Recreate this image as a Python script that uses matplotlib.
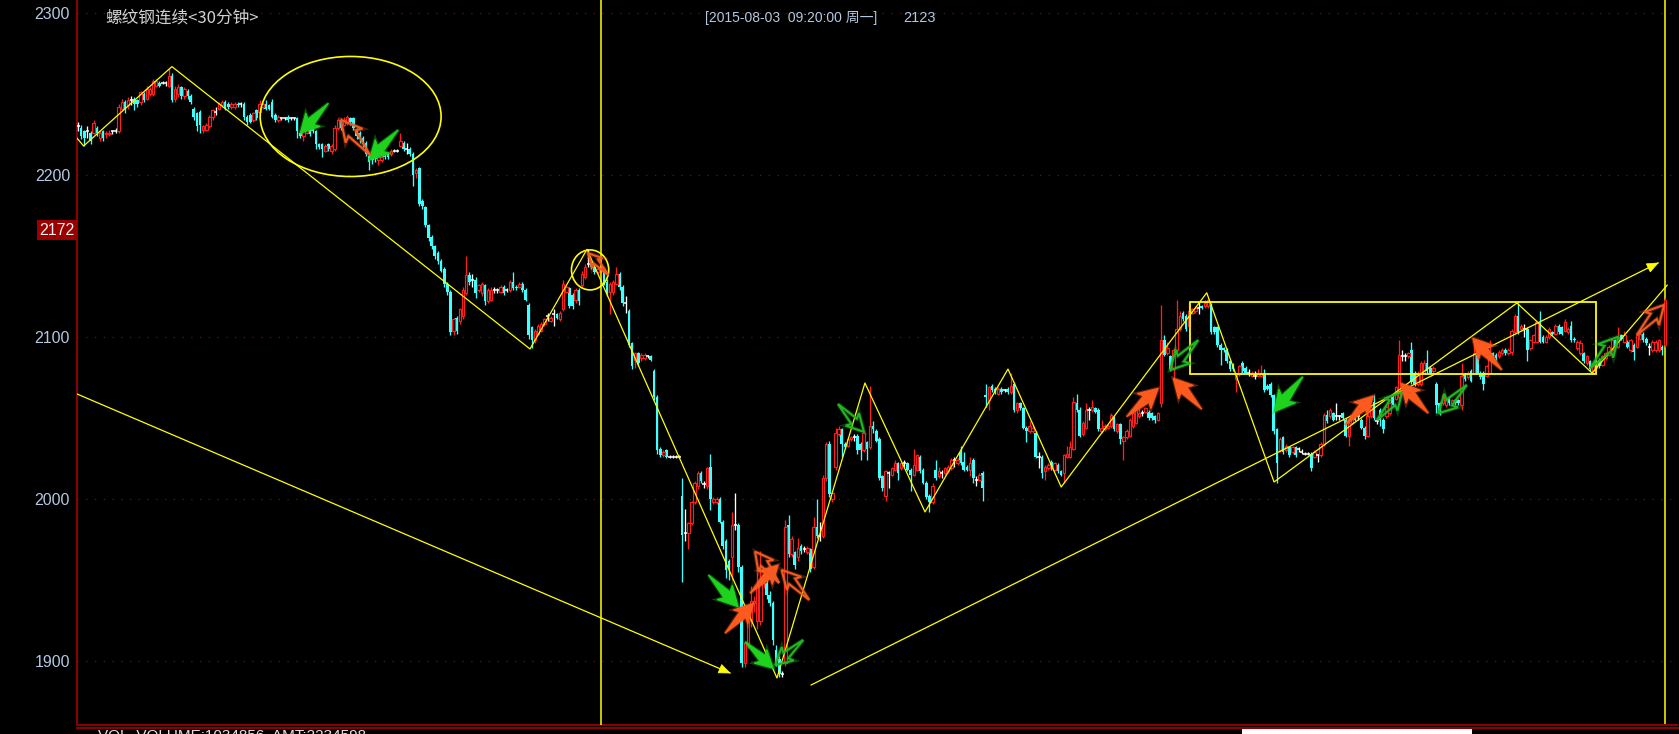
import matplotlib
matplotlib.use("Agg")
import matplotlib.pyplot as plt
import matplotlib.transforms as mtransforms
from matplotlib.patches import Polygon, Ellipse, Rectangle
from matplotlib.lines import Line2D
import numpy as np

plt.rcParams['font.family'] = ['Liberation Sans', 'Noto Sans CJK SC', 'DejaVu Sans']

# 30分钟K线 (开, 高, 低, 收)
opens = [
    2230, 2229, 2227, 2227, 2226, 2226, 2229, 2223, 2227, 2225,
    2225, 2227, 2227, 2227, 2241, 2245, 2243, 2246, 2247, 2246,
    2245, 2250, 2247, 2250, 2250, 2255, 2257, 2257, 2257, 2255,
    2261, 2247, 2250, 2254, 2249, 2252, 2249, 2241, 2238, 2239,
    2228, 2228, 2230, 2236, 2239, 2241, 2243, 2245, 2244, 2242,
    2242, 2244, 2244, 2244, 2236, 2237, 2234, 2240, 2239, 2242,
    2244, 2243, 2245, 2237, 2234, 2235, 2235, 2236, 2235, 2235,
    2235, 2226, 2224, 2226, 2228, 2229, 2227, 2219, 2219, 2215,
    2219, 2215, 2216, 2229, 2234, 2231, 2232, 2235, 2235, 2228,
    2226, 2223, 2220, 2212, 2211, 2212, 2209, 2209, 2212, 2213,
    2213, 2215, 2215, 2218, 2220, 2216, 2216, 2213, 2201, 2204,
    2184, 2180, 2169, 2162, 2156, 2152, 2147, 2142, 2133, 2128,
    2104, 2112, 2110, 2113, 2127, 2138, 2135, 2135, 2129, 2127,
    2132, 2122, 2123, 2129, 2129, 2128, 2131, 2129, 2129, 2134,
    2131, 2131, 2133, 2129, 2120, 2106, 2098, 2102, 2104, 2108,
    2113, 2110, 2114, 2114, 2111, 2117, 2128, 2130, 2126, 2123,
    2129, 2132, 2137, 2145, 2145, 2143, 2140, 2141, 2141, 2134,
    2128, 2128, 2133, 2139, 2131, 2121, 2116, 2096, 2086, 2090,
    2087, 2087, 2088, 2088, 2079, 2063, 2031, 2027, 2030, 2026,
    2026, 2026, 2026, 2002, 1979, 1979, 1985, 1998, 2008, 2016,
    2009, 2008, 2020, 1998, 1998, 2000, 1986, 1974, 1962, 1964,
    1984, 1984, 1958, 1899, 1911, 1925, 1936, 1925, 1925, 1948,
    1948, 1941, 1936, 1907, 1901, 1892, 1899, 1984, 1966, 1967,
    1964, 1971, 1969, 1967, 1969, 1958, 1983, 1977, 1977, 2013,
    2034, 2000, 2020, 2040, 2043, 2034, 2033, 2037, 2038, 2039,
    2034, 2030, 2035, 2032, 2045, 2042, 2037, 2014, 2002, 2016,
    2015, 2018, 2022, 2019, 2022, 2022, 2018, 2015, 2018, 2026,
    2018, 2010, 2002, 1998, 2018, 2014, 2016, 2016, 2017, 2019,
    2024, 2022, 2029, 2023, 2020, 2018, 2024, 2012, 2012, 2016,
    2064, 2061, 2070, 2068, 2065, 2068, 2067, 2068, 2066, 2071,
    2055, 2059, 2056, 2044, 2042, 2042, 2041, 2026, 2026, 2017,
    2019, 2023, 2018, 2021, 2017, 2016, 2026, 2026, 2031, 2059,
    2055, 2040, 2044, 2055, 2055, 2056, 2055, 2042, 2043, 2044,
    2045, 2050, 2042, 2046, 2036, 2038, 2039, 2045, 2047, 2051,
    2053, 2054, 2054, 2053, 2051, 2049, 2059, 2098, 2090, 2088,
    2080, 2092, 2105, 2115, 2113, 2107, 2115, 2116, 2118, 2119,
    2119, 2119, 2120, 2106, 2106, 2095, 2093, 2092, 2085, 2083,
    2074, 2077, 2084, 2081, 2078, 2076, 2076, 2076, 2076, 2077,
    2070, 2071, 2064, 2043, 2030, 2038, 2030, 2032, 2029, 2032,
    2031, 2029, 2028, 2028, 2028, 2026, 2027, 2027, 2034, 2052,
    2051, 2053, 2051, 2051, 2053, 2049, 2039, 2047, 2051, 2051,
    2049, 2044, 2039, 2051, 2060, 2048, 2055, 2049, 2051, 2053,
    2063, 2062, 2063, 2088, 2088, 2088, 2092, 2078, 2071, 2071,
    2078, 2084, 2081, 2079, 2071, 2059, 2059, 2058, 2062, 2059,
    2061, 2061, 2058, 2077, 2075, 2079, 2078, 2089, 2078, 2078,
    2076, 2078, 2090, 2089, 2088, 2090, 2092, 2090, 2091, 2103,
    2113, 2105, 2105, 2105, 2093, 2097, 2097, 2108, 2100, 2097,
    2100, 2103, 2102, 2107, 2106, 2104, 2103, 2107, 2099, 2093,
    2090, 2090, 2084, 2085, 2079, 2081, 2086, 2083, 2087, 2089,
    2092, 2098, 2094, 2101, 2097, 2097, 2092, 2095, 2094, 2099,
    2102, 2099, 2094, 2092, 2092, 2092, 2094, 2095,
]
highs = [
    2233, 2231, 2228, 2230, 2227, 2234, 2230, 2228, 2228, 2227,
    2228, 2228, 2229, 2244, 2247, 2246, 2248, 2249, 2248, 2247,
    2252, 2251, 2255, 2254, 2259, 2259, 2258, 2258, 2258, 2266,
    2263, 2255, 2256, 2255, 2254, 2253, 2250, 2242, 2239, 2240,
    2231, 2232, 2237, 2241, 2242, 2245, 2246, 2246, 2245, 2245,
    2245, 2245, 2245, 2245, 2237, 2238, 2239, 2241, 2246, 2245,
    2246, 2244, 2247, 2238, 2237, 2236, 2236, 2237, 2236, 2236,
    2236, 2227, 2228, 2229, 2229, 2230, 2228, 2220, 2220, 2219,
    2220, 2219, 2231, 2235, 2235, 2236, 2237, 2236, 2236, 2229,
    2227, 2224, 2221, 2213, 2212, 2213, 2212, 2213, 2213, 2214,
    2216, 2216, 2216, 2226, 2221, 2220, 2217, 2214, 2204, 2205,
    2185, 2181, 2170, 2163, 2157, 2153, 2148, 2143, 2134, 2129,
    2112, 2113, 2118, 2131, 2150, 2140, 2139, 2137, 2133, 2134,
    2133, 2130, 2131, 2131, 2130, 2132, 2132, 2130, 2135, 2140,
    2132, 2134, 2134, 2130, 2121, 2107, 2105, 2108, 2109, 2112,
    2115, 2113, 2117, 2115, 2116, 2135, 2132, 2131, 2127, 2130,
    2130, 2141, 2145, 2154, 2147, 2144, 2143, 2145, 2143, 2136,
    2134, 2135, 2143, 2140, 2132, 2125, 2117, 2097, 2091, 2091,
    2090, 2090, 2089, 2089, 2080, 2064, 2032, 2030, 2031, 2027,
    2027, 2027, 2027, 2013, 1994, 1986, 1999, 2011, 2017, 2017,
    2011, 2020, 2028, 2001, 2001, 2001, 1987, 1975, 1963, 1992,
    2004, 1985, 1959, 1912, 1927, 1946, 1940, 1955, 1968, 1952,
    1950, 1943, 1937, 1910, 1903, 1894, 1987, 1990, 1977, 1968,
    1976, 1972, 1971, 1971, 1970, 1989, 2000, 1986, 2015, 2035,
    2036, 2005, 2044, 2045, 2044, 2035, 2038, 2039, 2040, 2040,
    2035, 2042, 2036, 2070, 2048, 2043, 2038, 2015, 2018, 2017,
    2020, 2024, 2023, 2023, 2024, 2023, 2019, 2031, 2028, 2027,
    2019, 2011, 2003, 2010, 2024, 2020, 2018, 2020, 2021, 2025,
    2026, 2025, 2033, 2029, 2021, 2026, 2025, 2014, 2016, 2017,
    2071, 2070, 2071, 2069, 2069, 2069, 2068, 2069, 2078, 2072,
    2060, 2060, 2057, 2045, 2048, 2045, 2042, 2029, 2027, 2021,
    2022, 2024, 2023, 2022, 2018, 2028, 2033, 2036, 2063, 2065,
    2057, 2048, 2059, 2057, 2061, 2057, 2056, 2049, 2046, 2046,
    2053, 2051, 2047, 2047, 2039, 2043, 2050, 2054, 2057, 2058,
    2055, 2057, 2055, 2054, 2052, 2054, 2120, 2101, 2097, 2089,
    2093, 2123, 2116, 2116, 2114, 2121, 2118, 2119, 2122, 2120,
    2123, 2124, 2121, 2107, 2107, 2096, 2094, 2093, 2086, 2084,
    2078, 2083, 2085, 2082, 2080, 2079, 2079, 2080, 2083, 2080,
    2071, 2072, 2065, 2044, 2038, 2039, 2034, 2033, 2033, 2033,
    2032, 2031, 2029, 2029, 2029, 2030, 2028, 2035, 2053, 2055,
    2056, 2054, 2059, 2052, 2054, 2050, 2048, 2051, 2052, 2052,
    2050, 2045, 2052, 2058, 2064, 2050, 2056, 2050, 2058, 2060,
    2064, 2070, 2098, 2092, 2090, 2091, 2097, 2079, 2079, 2085,
    2086, 2092, 2082, 2082, 2072, 2060, 2065, 2062, 2063, 2062,
    2062, 2062, 2084, 2078, 2079, 2080, 2098, 2090, 2079, 2079,
    2083, 2098, 2091, 2090, 2092, 2093, 2093, 2093, 2105, 2114,
    2121, 2108, 2108, 2106, 2099, 2102, 2110, 2116, 2101, 2101,
    2106, 2104, 2108, 2108, 2107, 2111, 2106, 2110, 2100, 2098,
    2098, 2091, 2089, 2086, 2083, 2086, 2087, 2089, 2091, 2095,
    2099, 2099, 2106, 2102, 2104, 2098, 2099, 2096, 2102, 2103,
    2103, 2100, 2096, 2098, 2098, 2099, 2095, 2124,
]
lows = [
    2227, 2222, 2218, 2223, 2219, 2225, 2224, 2221, 2221, 2223,
    2224, 2225, 2226, 2226, 2240, 2238, 2241, 2243, 2240, 2242,
    2243, 2245, 2246, 2249, 2249, 2254, 2254, 2256, 2255, 2254,
    2245, 2245, 2248, 2247, 2247, 2247, 2244, 2234, 2227, 2226,
    2226, 2227, 2229, 2234, 2237, 2240, 2242, 2240, 2241, 2241,
    2241, 2242, 2242, 2234, 2231, 2232, 2233, 2234, 2238, 2241,
    2240, 2240, 2235, 2233, 2233, 2234, 2234, 2233, 2234, 2234,
    2223, 2223, 2221, 2225, 2224, 2226, 2216, 2216, 2211, 2214,
    2215, 2213, 2215, 2228, 2228, 2230, 2231, 2231, 2228, 2222,
    2220, 2217, 2212, 2203, 2207, 2208, 2206, 2208, 2210, 2210,
    2212, 2214, 2214, 2217, 2215, 2213, 2212, 2193, 2198, 2181,
    2179, 2168, 2159, 2154, 2148, 2145, 2140, 2131, 2126, 2101,
    2101, 2102, 2108, 2111, 2126, 2132, 2131, 2124, 2128, 2125,
    2120, 2121, 2122, 2127, 2127, 2127, 2126, 2128, 2128, 2129,
    2129, 2130, 2128, 2122, 2099, 2093, 2096, 2101, 2103, 2107,
    2110, 2109, 2107, 2111, 2110, 2116, 2127, 2118, 2117, 2121,
    2120, 2131, 2136, 2143, 2142, 2139, 2139, 2140, 2132, 2125,
    2114, 2126, 2132, 2129, 2119, 2115, 2094, 2080, 2081, 2082,
    2085, 2086, 2087, 2085, 2061, 2028, 2026, 2026, 2025, 2025,
    2025, 2025, 2025, 1949, 1974, 1969, 1984, 1997, 2006, 2010,
    2007, 2006, 1993, 1997, 1997, 1985, 1969, 1951, 1950, 1950,
    1981, 1955, 1896, 1896, 1908, 1921, 1930, 1920, 1922, 1945,
    1938, 1934, 1910, 1897, 1890, 1890, 1897, 1964, 1964, 1957,
    1962, 1966, 1967, 1966, 1955, 1957, 1976, 1974, 1976, 2011,
    2001, 1998, 2018, 2039, 2026, 2031, 2032, 2036, 2036, 2028,
    2024, 2029, 2024, 2031, 2041, 2035, 2012, 2005, 1999, 2007,
    2014, 2017, 2012, 2018, 2020, 2017, 2005, 2014, 2017, 2016,
    2009, 2000, 1992, 1997, 2012, 2013, 2013, 2015, 2016, 2018,
    2020, 2021, 2021, 2017, 2017, 2014, 2010, 2008, 2011, 1999,
    2057, 2055, 2066, 2065, 2064, 2065, 2066, 2065, 2065, 2054,
    2053, 2055, 2043, 2035, 2041, 2041, 2025, 2019, 2013, 2012,
    2018, 2018, 2017, 2016, 2014, 2010, 2025, 2025, 2030, 2054,
    2038, 2039, 2043, 2049, 2054, 2053, 2042, 2041, 2042, 2043,
    2044, 2042, 2041, 2034, 2024, 2037, 2038, 2044, 2046, 2050,
    2051, 2053, 2049, 2049, 2047, 2048, 2057, 2088, 2089, 2079,
    2073, 2091, 2104, 2110, 2104, 2106, 2114, 2115, 2114, 2117,
    2118, 2118, 2102, 2102, 2094, 2083, 2091, 2084, 2079, 2079,
    2066, 2076, 2078, 2077, 2076, 2075, 2074, 2075, 2075, 2066,
    2067, 2063, 2040, 2010, 2029, 2028, 2029, 2026, 2028, 2026,
    2029, 2028, 2027, 2027, 2017, 2025, 2023, 2026, 2033, 2047,
    2050, 2048, 2049, 2049, 2049, 2038, 2033, 2046, 2048, 2049,
    2043, 2037, 2038, 2050, 2049, 2046, 2045, 2041, 2050, 2052,
    2057, 2061, 2062, 2085, 2085, 2087, 2071, 2070, 2070, 2070,
    2077, 2078, 2077, 2078, 2053, 2052, 2058, 2057, 2058, 2058,
    2058, 2058, 2055, 2073, 2074, 2072, 2077, 2077, 2074, 2067,
    2075, 2077, 2087, 2086, 2087, 2089, 2089, 2089, 2089, 2102,
    2102, 2104, 2100, 2085, 2092, 2096, 2096, 2096, 2096, 2096,
    2099, 2101, 2101, 2102, 2101, 2103, 2102, 2097, 2097, 2092,
    2089, 2084, 2083, 2079, 2077, 2080, 2081, 2082, 2086, 2088,
    2091, 2093, 2093, 2098, 2096, 2093, 2091, 2086, 2093, 2098,
    2097, 2095, 2089, 2091, 2091, 2091, 2089, 2094,
]
closes = [
    2230, 2224, 2223, 2227, 2221, 2232, 2226, 2226, 2223, 2226,
    2226, 2227, 2227, 2242, 2245, 2241, 2246, 2246, 2244, 2244,
    2251, 2246, 2253, 2253, 2258, 2258, 2255, 2257, 2257, 2261,
    2246, 2253, 2254, 2249, 2253, 2249, 2245, 2236, 2230, 2231,
    2230, 2231, 2236, 2240, 2239, 2244, 2245, 2241, 2242, 2244,
    2244, 2243, 2244, 2236, 2233, 2233, 2238, 2235, 2244, 2244,
    2241, 2241, 2236, 2234, 2236, 2235, 2235, 2234, 2235, 2235,
    2227, 2224, 2227, 2228, 2225, 2227, 2219, 2217, 2216, 2218,
    2216, 2218, 2229, 2234, 2229, 2234, 2236, 2233, 2229, 2224,
    2222, 2219, 2213, 2208, 2209, 2210, 2211, 2211, 2211, 2211,
    2215, 2215, 2215, 2221, 2216, 2216, 2213, 2200, 2203, 2182,
    2181, 2169, 2161, 2156, 2150, 2147, 2141, 2133, 2128, 2103,
    2111, 2104, 2117, 2129, 2138, 2134, 2135, 2127, 2132, 2133,
    2122, 2129, 2129, 2129, 2129, 2131, 2127, 2129, 2134, 2130,
    2130, 2133, 2129, 2123, 2101, 2098, 2104, 2107, 2108, 2111,
    2113, 2112, 2114, 2112, 2115, 2133, 2131, 2119, 2119, 2129,
    2122, 2139, 2143, 2145, 2143, 2140, 2142, 2144, 2133, 2127,
    2133, 2134, 2139, 2131, 2121, 2121, 2095, 2082, 2090, 2084,
    2089, 2089, 2088, 2086, 2063, 2030, 2027, 2029, 2026, 2026,
    2026, 2026, 2026, 1978, 1979, 1985, 1998, 2010, 2016, 2011,
    2009, 2019, 2000, 2000, 2000, 1986, 1971, 1956, 1957, 1984,
    1984, 1958, 1899, 1911, 1925, 1937, 1937, 1946, 1950, 1950,
    1941, 1936, 1913, 1899, 1892, 1892, 1983, 1966, 1975, 1959,
    1970, 1968, 1969, 1970, 1957, 1983, 1977, 1977, 2013, 2034,
    2003, 2004, 2041, 2043, 2034, 2032, 2037, 2038, 2038, 2030,
    2030, 2041, 2031, 2045, 2043, 2036, 2013, 2007, 2017, 2016,
    2019, 2022, 2016, 2022, 2022, 2018, 2015, 2021, 2027, 2017,
    2010, 2001, 1998, 2008, 2013, 2017, 2016, 2019, 2020, 2024,
    2024, 2024, 2022, 2018, 2018, 2022, 2013, 2012, 2015, 2007,
    2063, 2069, 2067, 2066, 2068, 2066, 2067, 2066, 2070, 2055,
    2059, 2056, 2044, 2042, 2045, 2044, 2026, 2026, 2016, 2020,
    2021, 2019, 2022, 2017, 2015, 2027, 2028, 2032, 2060, 2055,
    2039, 2047, 2055, 2055, 2057, 2054, 2043, 2044, 2045, 2045,
    2052, 2043, 2046, 2037, 2038, 2042, 2049, 2053, 2056, 2053,
    2053, 2056, 2050, 2050, 2049, 2053, 2098, 2089, 2093, 2080,
    2092, 2105, 2113, 2111, 2105, 2116, 2117, 2118, 2118, 2118,
    2121, 2123, 2103, 2103, 2095, 2092, 2092, 2085, 2080, 2080,
    2077, 2082, 2079, 2078, 2078, 2078, 2076, 2077, 2078, 2067,
    2068, 2064, 2042, 2022, 2037, 2029, 2033, 2027, 2032, 2027,
    2031, 2029, 2028, 2028, 2019, 2029, 2027, 2034, 2052, 2048,
    2055, 2049, 2051, 2051, 2050, 2039, 2047, 2050, 2049, 2051,
    2044, 2039, 2051, 2057, 2050, 2048, 2049, 2043, 2057, 2059,
    2058, 2069, 2089, 2088, 2088, 2090, 2072, 2071, 2078, 2084,
    2084, 2079, 2078, 2081, 2058, 2053, 2064, 2061, 2059, 2061,
    2059, 2059, 2076, 2074, 2078, 2073, 2090, 2078, 2075, 2071,
    2082, 2090, 2088, 2087, 2091, 2092, 2090, 2092, 2104, 2113,
    2103, 2107, 2105, 2092, 2098, 2101, 2109, 2097, 2097, 2100,
    2105, 2102, 2107, 2103, 2102, 2109, 2105, 2098, 2098, 2097,
    2096, 2085, 2088, 2080, 2082, 2085, 2082, 2088, 2090, 2094,
    2098, 2094, 2100, 2099, 2101, 2094, 2098, 2091, 2101, 2102,
    2098, 2096, 2094, 2097, 2097, 2098, 2092, 2123,
]

title_text = "螺纹钢连续<30分钟>"
info_text = "[2015-08-03  09:20:00 周一]"
last_price = "2123"
marker_price = 2172
price_ticks = [2300, 2200, 2100, 2000, 1900]
cursor_bar = 167
vol_text = "VOL  VOLUME:1034856  AMT:2234598"

# 画线工具: 折线(波段), 趋势线, 椭圆, 矩形
zig_x = [-0.3, 1.8, 30.0, 144.4, 162.6, 223.3, 251.4, 270.6, 297.1, 314.1, 360.6, 382.1, 459.7, 483.7, 507.7]
zig_y = [2222.7, 2217.9, 2266.9, 2092.6, 2154.1, 1889.5, 2071.6, 1992.0, 2080.2, 2007.4, 2127.3, 2010.5, 2121.0, 2077.8, 2132.0]
trend_x0 = [-0.3, 234.2]
trend_y0 = [2064.8, 1885.2]
trend_x1 = [208.3, 504.8]
trend_y1 = [1892.6, 2145.7]
ell_x = [87.1, 163.6]
ell_y = [2236.1, 2141.4]
ell_w = [57.8, 11.9]
ell_h = [74.1, 24.7]
box_x = [355.4, 485.1]
box_y = [2077.0, 2121.4]

# 箭头: 尾 -> 头, 颜色, 实心/空心
arr_tail_x = [80.0, 102.3, 201.4, 213.1, 231.7, 242.8, 357.9, 391.3, 443.7, 415.0, 483.1,
              93.3, 169.4, 206.7, 214.7, 224.0, 233.6, 335.0, 359.0, 404.8, 431.4, 454.9, 498.0]
arr_tail_y = [2244.3, 2227.8, 1953.1, 1911.9, 1913.0, 2058.6, 2098.1, 2075.5, 2070.4, 2048.8, 2080.7,
              2212.3, 2138.3, 1917.1, 1941.8, 1948.1, 1937.7, 2050.8, 2055.4, 2045.7, 2052.9, 2079.6, 2101.2]
arr_tip_x = [71.0, 93.1, 210.9, 222.1, 222.7, 251.1, 348.9, 382.2, 434.6, 423.0, 492.1,
             84.0, 163.0, 215.8, 223.7, 216.3, 224.8, 345.1, 349.9, 413.8, 422.6, 445.6, 506.7]
arr_tip_y = [2225.8, 2209.3, 1933.5, 1895.5, 1897.5, 2041.4, 2079.6, 2053.9, 2052.9, 2066.0, 2100.2,
             2234.0, 2151.7, 1935.6, 1959.3, 1967.5, 1956.2, 2068.3, 2074.5, 2063.6, 2071.4, 2099.2, 2119.8]
arr_kind = ['g', 'g', 'g', 'g', 'gh', 'gh', 'gh', 'g', 'gh', 'gh', 'gh',
            'oh', 'oh', 'o', 'o', 'oh', 'oh', 'o', 'o', 'o', 'o', 'o', 'oh']

W, H = 1679, 734
fig = plt.figure(figsize=(W / 100, H / 100), dpi=100, facecolor='black')
ax = fig.add_axes([77 / W, 9 / H, 1600 / W, 725 / H], facecolor='black')

o = np.array(opens, float)
h = np.array(highs, float)
l = np.array(lows, float)
c = np.array(closes, float)
n = len(c)
x = np.arange(n)

px_bar = (1665 - 78) / (n - 1)
ax.set_xlim(-1 / px_bar, n - 1 + 12 / px_bar)
ax.set_ylim(1860.5, 2308.0)

red = '#ff1e1e'
cyan = '#40ffff'
up = c > o
dn = c < o
fl = c == o

wick_col = np.where(up, red, np.where(dn, cyan, 'white'))
ax.vlines(x, l, h, colors=wick_col, linewidth=0.95, zorder=3)
ax.bar(x[dn], np.maximum(o[dn] - c[dn], 0.6), bottom=c[dn], width=0.86, color=cyan,
       linewidth=0, zorder=4)
ax.bar(x[up], c[up] - o[up], bottom=o[up], width=0.78, facecolor='black',
       edgecolor=red, linewidth=0.85, zorder=4)
ax.hlines(o[fl], x[fl] - 0.5, x[fl] + 0.5, colors='white', linewidth=1.1, zorder=4)

for p in price_ticks:
    ax.axhline(p, color='#900000', linewidth=0.9, linestyle=(0, (1, 6)), zorder=1)

ax.set_yticks(price_ticks)
ax.set_yticklabels([str(p) for p in price_ticks])
ax.tick_params(axis='y', colors='#b4c8e0', labelsize=11.5, length=0, pad=5)
ax.set_xticks([])
for s in ['top', 'right']:
    ax.spines[s].set_visible(False)
for s in ['left', 'bottom']:
    ax.spines[s].set_color('#8b0000')
    ax.spines[s].set_linewidth(1.5)

yel = '#ffff00'
ax.axvline(cursor_bar, color=yel, linewidth=1.1, zorder=5)
ax.axvline(n - 1, color=yel, linewidth=1.1, zorder=2)

ax.plot(zig_x, zig_y, color=yel, linewidth=0.9, zorder=6)
for i in range(len(trend_x0)):
    ax.plot([trend_x0[i], trend_x1[i]], [trend_y0[i], trend_y1[i]], color=yel, linewidth=0.9, zorder=6)
for i in range(len(ell_x)):
    ax.add_patch(Ellipse((ell_x[i], ell_y[i]), ell_w[i], ell_h[i], facecolor='none',
                         edgecolor=yel, linewidth=1.2, zorder=6))
ax.add_patch(Rectangle((box_x[0], box_y[0]), box_x[1] - box_x[0], box_y[1] - box_y[0],
                       facecolor='none', edgecolor=yel, linewidth=1.3, zorder=6))

fig.canvas.draw()
ident = mtransforms.IdentityTransform()


def to_px(xv, yv):
    return ax.transData.transform((xv, yv))


# 趋势线箭头
for i in range(len(trend_x0)):
    p0 = to_px(trend_x0[i], trend_y0[i])
    p1 = to_px(trend_x1[i], trend_y1[i])
    u = (p1 - p0) / np.hypot(*(p1 - p0))
    nv = np.array([-u[1], u[0]])
    tri = [p1, p1 - u * 11 + nv * 4.5, p1 - u * 11 - nv * 4.5]
    ax.add_patch(Polygon(tri, closed=True, transform=ident, facecolor=yel,
                         edgecolor=yel, linewidth=0.5, zorder=7))


def arrow_pts(p0, p1):
    d = p1 - p0
    L = np.hypot(*d)
    u = d / L
    nv = np.array([-u[1], u[0]])
    hl, hw, sw = 0.38 * L, 0.24 * L, 0.1 * L
    a = p0 + u * (L - hl)
    b = p0 + u * (L - hl - 0.07 * L)
    return [p0, a + nv * sw, b + nv * hw, p1, b - nv * hw, a - nv * sw]


cols = {'g': '#1ed21e', 'gh': '#22b422', 'o': '#ff5a1e', 'oh': '#f05a23'}
for i in range(len(arr_kind)):
    pts = arrow_pts(to_px(arr_tail_x[i], arr_tail_y[i]), to_px(arr_tip_x[i], arr_tip_y[i]))
    col = cols[arr_kind[i]]
    if arr_kind[i].endswith('h'):
        ax.add_patch(Polygon(pts, closed=True, transform=ident, facecolor='none',
                             edgecolor=col, linewidth=3.0, alpha=0.3, zorder=8))
        ax.add_patch(Polygon(pts, closed=True, transform=ident, facecolor='none',
                             edgecolor=col, linewidth=1.5, zorder=8))
    else:
        ax.add_patch(Polygon(pts, closed=True, transform=ident, facecolor=col,
                             edgecolor=col, linewidth=2.5, alpha=0.35, zorder=8))
        ax.add_patch(Polygon(pts, closed=True, transform=ident, facecolor=col,
                             edgecolor=col, linewidth=0.8, zorder=8))

# 文字
fig.text(105 / W, 1 - 18 / H, title_text, color='#d2d2d2', fontsize=12,
         family=['Noto Sans CJK SC', 'DejaVu Sans'], va='center', ha='left')
fig.text(705 / W, 1 - 18 / H, info_text, color='#b4c8e0', fontsize=10,
         family=['Liberation Sans', 'Noto Sans CJK SC'], va='center', ha='left')
fig.text(903 / W, 1 - 18 / H, last_price, color='#b4c8e0', fontsize=10.5, va='center', ha='left')

bl = mtransforms.blended_transform_factory(fig.transFigure, ax.transData)
box_h = 20 / 1.62
fig.add_artist(Rectangle((37 / W, marker_price - box_h), 40 / W, box_h, transform=bl,
                         facecolor='#9a0000', edgecolor='none'))
fig.text(57 / W, marker_price - box_h / 2, str(marker_price), transform=bl, color='#f0f0f0',
         fontsize=11.5, va='center', ha='center')

# 下方副图
fig.add_artist(Line2D([77 / W, 1], [1 - 728 / H, 1 - 728 / H], color='#8b0000', linewidth=1.5))
fig.add_artist(Rectangle((1242 / W, 0), 230 / W, 6 / H, facecolor='white', edgecolor='none'))
fig.text(98 / W, 1 - 729.5 / H, vol_text, color='#e0e0e0', fontsize=11, va='top', ha='left')

fig.savefig('out.png', dpi=100, facecolor='black')
